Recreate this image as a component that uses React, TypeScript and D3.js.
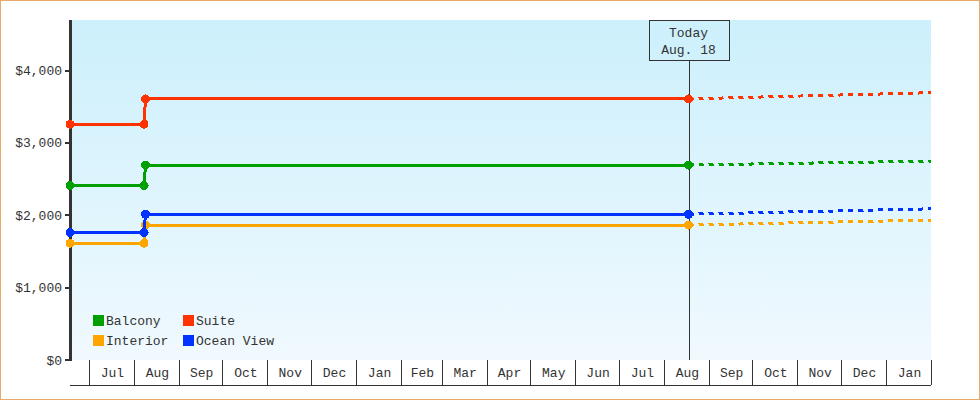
import * as d3 from "d3";

// price history (one step in early August) and the forecast to the end of January
const seriesNames = ["Balcony", "Suite", "Interior", "Ocean View"];
const seriesColors = ["#00a000", "#ff3300", "#ffa500", "#0033ff"];
const historyDates = ["2014-06-18", "2014-08-08", "2014-08-09", "2015-08-18"];
const oldPrices = [2410, 3260, 1615, 1765];
const newPrices = [2695, 3610, 1865, 2015];
const forecastEndDate = "2016-02-01";
const forecastPrices = [2750, 3695, 1935, 2090];
const yTicks = [0, 1000, 2000, 3000, 4000];
const todayLabel = ["Today", "Aug. 18"];

const W = 980;
const H = 400;
const margin = { top: 20, right: 49, bottom: 40, left: 70 };
const font = "'Liberation Mono', monospace";
const ink = "#333";

const parse = d3.utcParse("%Y-%m-%d");

export default function App() {
  const start = parse(historyDates[0])!;
  const end = parse(forecastEndDate)!;
  const today = parse(historyDates[historyDates.length - 1])!;

  const x = d3
    .scaleUtc()
    .domain([start, end])
    .range([margin.left, W - margin.right]);
  const y = d3
    .scaleLinear()
    .domain([0, 4700])
    .range([H - margin.bottom, margin.top]);

  const y0 = y(0);
  const axisBottom = y0 + 25;

  const line = d3
    .line<[Date, number]>()
    .x((d) => x(d[0]))
    .y((d) => y(d[1]));

  const history = seriesNames.map((_, i) =>
    historyDates.map((d, j): [Date, number] => [
      parse(d)!,
      j === 0 || j === 1 ? oldPrices[i] : newPrices[i],
    ])
  );
  const forecast = seriesNames.map((_, i): [Date, number][] => [
    [today, newPrices[i]],
    [end, forecastPrices[i]],
  ]);

  // month cells along the bottom
  const boundaries = [start, ...d3.utcMonth.range(d3.utcMonth.ceil(start), end), end];
  const cells = boundaries.slice(0, -1).map((d, i) => ({
    from: d,
    to: boundaries[i + 1],
    full: d.getUTCDate() === 1,
  }));

  const tx = x(today);

  return (
    <svg
      width={W}
      height={H}
      style={{ position: "absolute", left: 0, top: 0, display: "block" }}
      shapeRendering="crispEdges"
    >
      <defs>
        <linearGradient id="bg" x1="0" y1="0" x2="0" y2="1">
          <stop offset="0" stopColor="#ccf0fc" />
          <stop offset="1" stopColor="#f0f9fe" />
        </linearGradient>
      </defs>
      <rect x={0.5} y={0.5} width={W - 1} height={H - 1} fill="#fff" stroke="#e8aa68" />
      <rect
        x={margin.left}
        y={margin.top}
        width={W - margin.right - margin.left}
        height={y0 - margin.top}
        fill="url(#bg)"
      />

      {/* x axis cells */}
      <g stroke={ink} strokeWidth={1} fill="none">
        <line x1={margin.left} x2={W - margin.right} y1={axisBottom + 0.5} y2={axisBottom + 0.5} />
        {boundaries.slice(1).map((d, i) => (
          <line
            key={i}
            x1={Math.round(x(d)) + 0.5}
            x2={Math.round(x(d)) + 0.5}
            y1={y0}
            y2={axisBottom}
          />
        ))}
      </g>
      <g fontFamily={font} fontSize={13} fill={ink} textAnchor="middle">
        {cells
          .filter((c) => c.full)
          .map((c, i) => (
            <text key={i} x={(x(c.from) + x(c.to)) / 2 + 1} y={y0 + 17}>
              {d3.utcFormat("%b")(c.from)}
            </text>
          ))}
      </g>

      {/* y axis */}
      <line x1={margin.left + 0.5} x2={margin.left + 0.5} y1={margin.top} y2={y0 + 1} stroke={ink} strokeWidth={3} />
      {yTicks.map((t) => (
        <g key={t}>
          <line x1={margin.left - 5} x2={margin.left} y1={y(t)} y2={y(t)} stroke={ink} strokeWidth={2} />
          <text
            x={margin.left - 8}
            y={y(t) + 4.5}
            textAnchor="end"
            fontFamily={font}
            fontSize={13}
            fill={ink}
          >
            {d3.format("$,")(t)}
          </text>
        </g>
      ))}

      {/* today marker */}
      <line x1={Math.round(tx) + 0.5} x2={Math.round(tx) + 0.5} y1={margin.top + 40} y2={y0} stroke={ink} strokeWidth={1} />
      <rect x={Math.round(tx) - 39.5} y={margin.top + 0.5} width={80} height={40} fill="none" stroke={ink} strokeWidth={1} />
      {todayLabel.map((t, i) => (
        <text
          key={t}
          x={tx}
          y={margin.top + 17 + i * 17}
          textAnchor="middle"
          fontFamily={font}
          fontSize={13}
          fill={ink}
        >
          {t}
        </text>
      ))}

      {/* series */}
      {seriesNames.map((name, i) => (
        <g key={name}>
          <path d={line(forecast[i])!} fill="none" stroke={seriesColors[i]} strokeWidth={3} strokeDasharray="5 5" />
          <path d={line(history[i])!} fill="none" stroke={seriesColors[i]} strokeWidth={3} />
          {history[i].map((d, j) => (
            <circle key={j} cx={x(d[0])} cy={y(d[1])} r={4.5} fill={seriesColors[i]} />
          ))}
        </g>
      ))}

      {/* legend */}
      <g fontFamily={font} fontSize={13} fill={ink}>
        {seriesNames.map((name, i) => {
          const col = i % 2;
          const row = Math.floor(i / 2);
          const lx = 93 + col * 90;
          const ly = 315 + row * 20;
          return (
            <g key={name}>
              <rect x={lx} y={ly} width={11} height={11} fill={seriesColors[i]} />
              <text x={lx + 13} y={ly + 10}>
                {name}
              </text>
            </g>
          );
        })}
      </g>
    </svg>
  );
}
